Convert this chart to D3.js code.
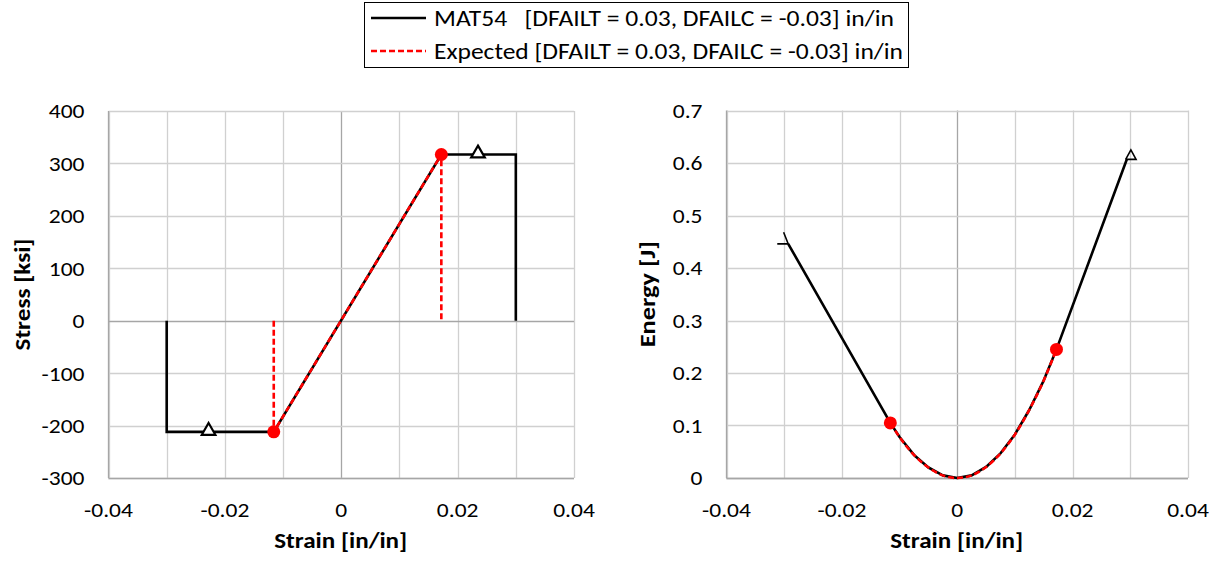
<!DOCTYPE html>
<html>
<head>
<meta charset="utf-8">
<script src="https://cdn.jsdelivr.net/npm/d3@7"></script>
<style>
  html, body { margin: 0; padding: 0; background: #fff; }
  svg { display: block; font-family: Calibri, Carlito, "Open Sans", sans-serif; }
</style>
</head>
<body>
<svg id="chart" width="1217" height="562"></svg>
<script>
// ---- Stress–strain data (ksi vs in/in) ----
const mat54StressStrain = [-0.030, -0.030, -0.0116, 0.0172, 0.0300, 0.0300];
const mat54Stress       = [0, -212, -212, 317, 317, 0];
const expectedStrain    = [-0.0116, -0.0116, 0.0172, 0.0172];
const expectedStress    = [0, -212, 317, 0];
const failStrain        = [-0.0116, 0.0172];
const failStress        = [-212, 317];
const triangleStrain    = [-0.0228, 0.0235];
const triangleStress    = [-212, 317];

// ---- Energy–strain data (J vs in/in) ----
const mat54EnergyStrain = [-0.0293, -0.0116, -0.0100, -0.0075, -0.0050, -0.0025, 0,
                           0.0025, 0.0050, 0.0075, 0.0100, 0.0125, 0.0150, 0.0172, 0.0294];
const mat54Energy       = [0.446, 0.105, 0.078, 0.044, 0.020, 0.005, 0,
                           0.005, 0.021, 0.047, 0.083, 0.130, 0.186, 0.245, 0.607];
// short post-failure kinks at each end of the energy curve
const kinkLeftStrain  = [-0.0312, -0.0293, -0.0301];
const kinkLeftEnergy  = [0.446, 0.446, 0.468];
const kinkRightStrain = [0.0292, 0.0301, 0.0310, 0.0292];
const kinkRightEnergy = [0.607, 0.625, 0.607, 0.607];

const expectedEnergyStrain = [-0.0116, -0.0100, -0.0075, -0.0050, -0.0025, 0, 0.0025, 0.0050, 0.0075, 0.0100, 0.0125, 0.0150, 0.0172];
const expectedEnergy       = [0.105, 0.078, 0.044, 0.020, 0.005, 0, 0.005, 0.021, 0.047, 0.083, 0.130, 0.186, 0.245];
const failEnergy           = [0.105, 0.245];

// ---- Axis ticks ----
const strainTicks = [-0.04, -0.03, -0.02, -0.01, 0, 0.01, 0.02, 0.03, 0.04];
const strainTickLabels = ["-0.04", "-0.02", "0", "0.02", "0.04"];
const stressTicks = [-300, -200, -100, 0, 100, 200, 300, 400];
const energyTicks = [0, 0.1, 0.2, 0.3, 0.4, 0.5, 0.6, 0.7];

const legendLabels = [
  "MAT54   [DFAILT = 0.03, DFAILC = -0.03] in/in",
  "Expected [DFAILT = 0.03, DFAILC = -0.03] in/in"
];

const svg = d3.select("#chart");
const zip = (xs, ys) => xs.map((x, i) => [x, ys[i]]);
const TICK_FONT = 21, TICK_STRETCH = 1.12;

function drawPanel(opts) {
  const { x, y, yTicks, yFmt, yTitle, yTitleX, yTitleLen } = opts;
  const g = svg.append("g");
  const [x0, x1] = x.range();
  const [y0, y1] = y.range(); // y0 = bottom, y1 = top

  // gridlines
  g.selectAll("line.vgrid").data(strainTicks).join("line")
    .attr("x1", d => Math.round(x(d)) + 0.5).attr("x2", d => Math.round(x(d)) + 0.5)
    .attr("y1", y1).attr("y2", y0)
    .attr("stroke", d => d === 0 ? "#a6a6a6" : "#d0d0d0").attr("stroke-width", 1.3);
  g.selectAll("line.hgrid").data(yTicks).join("line")
    .attr("y1", d => Math.round(y(d)) + 0.5).attr("y2", d => Math.round(y(d)) + 0.5)
    .attr("x1", x0).attr("x2", x1)
    .attr("stroke", d => d === 0 ? "#a6a6a6" : "#d0d0d0").attr("stroke-width", 1.3);
  // plot-area left and bottom edges
  g.append("line").attr("x1", x0).attr("x2", x0).attr("y1", y1).attr("y2", y0)
    .attr("stroke", "#a6a6a6").attr("stroke-width", 1.3);
  g.append("line").attr("x1", x0).attr("x2", x1).attr("y1", y0 + 0.5).attr("y2", y0 + 0.5)
    .attr("stroke", "#a6a6a6").attr("stroke-width", 1.3);

  // tick labels
  g.selectAll("text.ylab").data(yTicks).join("text")
    .attr("transform", d => `translate(${x0 - 24},${y(d)}) scale(${TICK_STRETCH},1)`)
    .attr("dy", "0.35em")
    .attr("text-anchor", "end").attr("font-size", TICK_FONT).attr("fill", "#000")
    .text(yFmt);
  g.selectAll("text.xlab").data(strainTickLabels).join("text")
    .attr("transform", d => `translate(${x(+d)},${y0 + 32}) scale(${TICK_STRETCH},1)`)
    .attr("dy", "0.35em")
    .attr("text-anchor", "middle").attr("font-size", TICK_FONT).attr("fill", "#000")
    .text(d => d);

  // axis titles
  g.append("text").attr("x", (x0 + x1) / 2 - 0.5).attr("y", y0 + 62).attr("dy", "0.35em")
    .attr("text-anchor", "middle").attr("font-size", 22).attr("font-weight", "bold")
    .attr("textLength", 133).attr("lengthAdjust", "spacingAndGlyphs")
    .text("Strain [in/in]");
  g.append("text")
    .attr("transform", `translate(${yTitleX},${(y0 + y1) / 2}) rotate(-90)`)
    .attr("dy", "0.35em").attr("text-anchor", "middle")
    .attr("font-size", 22).attr("font-weight", "bold")
    .attr("textLength", yTitleLen).attr("lengthAdjust", "spacingAndGlyphs")
    .text(yTitle);
  return g;
}

// ---------- Left panel: stress ----------
const xL = d3.scaleLinear().domain([-0.04, 0.04]).range([108.5, 574]);
const yL = d3.scaleLinear().domain([-300, 400]).range([478, 111]);
const gL = drawPanel({ x: xL, y: yL, yTicks: stressTicks, yFmt: d => String(d),
                       yTitle: "Stress [ksi]", yTitleX: 22, yTitleLen: 112 });
const lineL = d3.line().x(d => xL(d[0])).y(d => yL(d[1]));

gL.append("path").attr("d", lineL(zip(mat54StressStrain, mat54Stress)))
  .attr("fill", "none").attr("stroke", "#000").attr("stroke-width", 2.6).attr("stroke-linejoin", "miter");
gL.append("path").attr("d", lineL(zip(expectedStrain, expectedStress)))
  .attr("fill", "none").attr("stroke", "#ff0000").attr("stroke-width", 2.6).attr("stroke-dasharray", "6,3");
gL.selectAll("path.tri").data(zip(triangleStrain, triangleStress)).join("path")
  .attr("d", d3.symbol(d3.symbolTriangle, 80)())
  .attr("transform", d => `translate(${xL(d[0])},${yL(d[1]) - 1})`)
  .attr("fill", "#fff").attr("stroke", "#000").attr("stroke-width", 2.2);
gL.selectAll("circle.fail").data(zip(failStrain, failStress)).join("circle")
  .attr("cx", d => xL(d[0])).attr("cy", d => yL(d[1])).attr("r", 6.5).attr("fill", "#ff0000");

// ---------- Right panel: energy ----------
const xR = d3.scaleLinear().domain([-0.04, 0.04]).range([726.5, 1188]);
const yR = d3.scaleLinear().domain([0, 0.7]).range([478, 110.5]);
const gR = drawPanel({ x: xR, y: yR, yTicks: energyTicks, yFmt: d => String(d),
                       yTitle: "Energy [J]", yTitleX: 647, yTitleLen: 106 });
const lineR = d3.line().x(d => xR(d[0])).y(d => yR(d[1]));
const curveR = d3.line().curve(d3.curveMonotoneX).x(d => xR(d[0])).y(d => yR(d[1]));

[[kinkLeftStrain, kinkLeftEnergy], [kinkRightStrain, kinkRightEnergy]].forEach(([xs, ys]) => {
  gR.append("path").attr("d", lineR(zip(xs, ys)))
    .attr("fill", "none").attr("stroke", "#000").attr("stroke-width", 1.6).attr("stroke-linejoin", "miter");
});
gR.append("path").attr("d", lineR(zip(mat54EnergyStrain, mat54Energy)))
  .attr("fill", "none").attr("stroke", "#000").attr("stroke-width", 2.6).attr("stroke-linejoin", "round");
gR.append("path").attr("d", curveR(zip(expectedEnergyStrain, expectedEnergy)))
  .attr("fill", "none").attr("stroke", "#ff0000").attr("stroke-width", 2.6).attr("stroke-dasharray", "6,3");
gR.selectAll("circle.fail").data(zip(failStrain, failEnergy)).join("circle")
  .attr("cx", d => xR(d[0])).attr("cy", d => yR(d[1])).attr("r", 6.5).attr("fill", "#ff0000");

// ---------- Legend ----------
const lg = svg.append("g");
lg.append("rect").attr("x", 364.5).attr("y", 2.5).attr("width", 544).attr("height", 65)
  .attr("fill", "#fff").attr("stroke", "#000").attr("stroke-width", 1);
const legendY = [18, 51];
const legendLen = [460, 469];
lg.append("line").attr("x1", 371).attr("x2", 426).attr("y1", legendY[0]).attr("y2", legendY[0])
  .attr("stroke", "#000").attr("stroke-width", 2.6);
lg.append("line").attr("x1", 371).attr("x2", 426).attr("y1", legendY[1]).attr("y2", legendY[1])
  .attr("stroke", "#ff0000").attr("stroke-width", 2.6).attr("stroke-dasharray", "6,3");
lg.selectAll("text").data(legendLabels).join("text")
  .attr("x", 434).attr("y", (d, i) => legendY[i]).attr("dy", "0.35em")
  .attr("font-size", 22).attr("xml:space", "preserve").style("white-space", "pre")
  .attr("textLength", (d, i) => legendLen[i]).attr("lengthAdjust", "spacingAndGlyphs")
  .text(d => d);
</script>
</body>
</html>
